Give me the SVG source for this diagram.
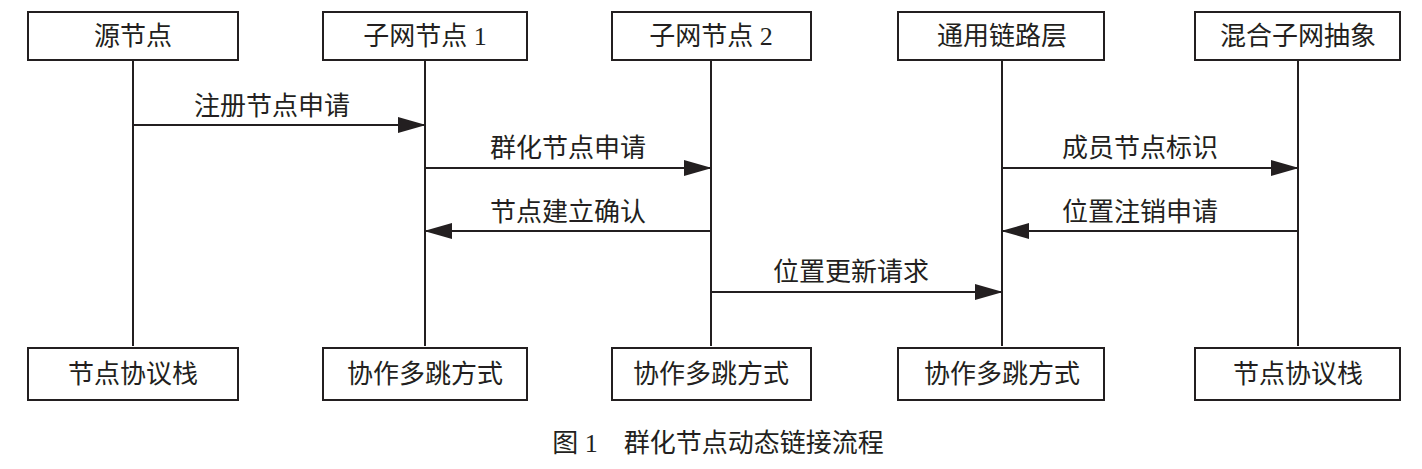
<svg xmlns="http://www.w3.org/2000/svg" width="1422" height="469" viewBox="0 0 1422 469">
<style>
.b{fill:#fff;stroke:#231f20;stroke-width:2}
.l{stroke:#231f20;stroke-width:2;fill:none}
text{font-family:"Liberation Serif","Noto Sans CJK SC",serif;font-size:26px;fill:#231f20;text-anchor:middle}
</style>
<defs><marker id="a" markerWidth="28" markerHeight="16" refX="27" refY="8" orient="auto" markerUnits="userSpaceOnUse"><path d="M0,0 L28,8 L0,16 Z" fill="#231f20"/></marker></defs>
<rect width="1422" height="469" fill="#fff"/>
<g id="lifelines">
<line class="l" x1="133" y1="60" x2="133" y2="346"/>
<line class="l" x1="425" y1="60" x2="425" y2="346"/>
<line class="l" x1="711" y1="60" x2="711" y2="346"/>
<line class="l" x1="1002" y1="60" x2="1002" y2="346"/>
<line class="l" x1="1298" y1="60" x2="1298" y2="346"/>
</g>
<g id="n1"><rect class="b" x="28" y="12" width="210" height="48"/><text x="133" y="45">源节点</text></g>
<g id="n2"><rect class="b" x="323" y="12" width="204" height="48"/><text x="425" y="45">子网节点 1</text></g>
<g id="n3"><rect class="b" x="612" y="12" width="199" height="48"/><text x="711" y="45">子网节点 2</text></g>
<g id="n4"><rect class="b" x="898" y="12" width="206" height="48"/><text x="1002" y="45">通用链路层</text></g>
<g id="n5"><rect class="b" x="1195" y="12" width="205" height="48"/><text x="1298" y="45">混合子网抽象</text></g>
<g id="m1"><rect class="b" x="28" y="348" width="210" height="52"/><text x="133" y="383">节点协议栈</text></g>
<g id="m2"><rect class="b" x="323" y="348" width="204" height="52"/><text x="425" y="383">协作多跳方式</text></g>
<g id="m3"><rect class="b" x="612" y="348" width="199" height="52"/><text x="711" y="383">协作多跳方式</text></g>
<g id="m4"><rect class="b" x="898" y="348" width="206" height="52"/><text x="1002" y="383">协作多跳方式</text></g>
<g id="m5"><rect class="b" x="1195" y="348" width="205" height="52"/><text x="1298" y="383">节点协议栈</text></g>
<g id="connectors">
<line class="l" x1="133" y1="125" x2="425" y2="125" marker-end="url(#a)"/>
<line class="l" x1="425" y1="168" x2="711" y2="168" marker-end="url(#a)"/>
<line class="l" x1="711" y1="231" x2="425" y2="231" marker-end="url(#a)"/>
<line class="l" x1="711" y1="292" x2="1002" y2="292" marker-end="url(#a)"/>
<line class="l" x1="1002" y1="168" x2="1298" y2="168" marker-end="url(#a)"/>
<line class="l" x1="1298" y1="231" x2="1002" y2="231" marker-end="url(#a)"/>
<text x="272" y="115">注册节点申请</text>
<text x="568" y="157">群化节点申请</text>
<text x="568" y="221">节点建立确认</text>
<text x="851" y="281">位置更新请求</text>
<text x="1140" y="157">成员节点标识</text>
<text x="1140" y="221">位置注销申请</text>
</g>
<text x="718" y="452">图 1　群化节点动态链接流程</text>
</svg>
